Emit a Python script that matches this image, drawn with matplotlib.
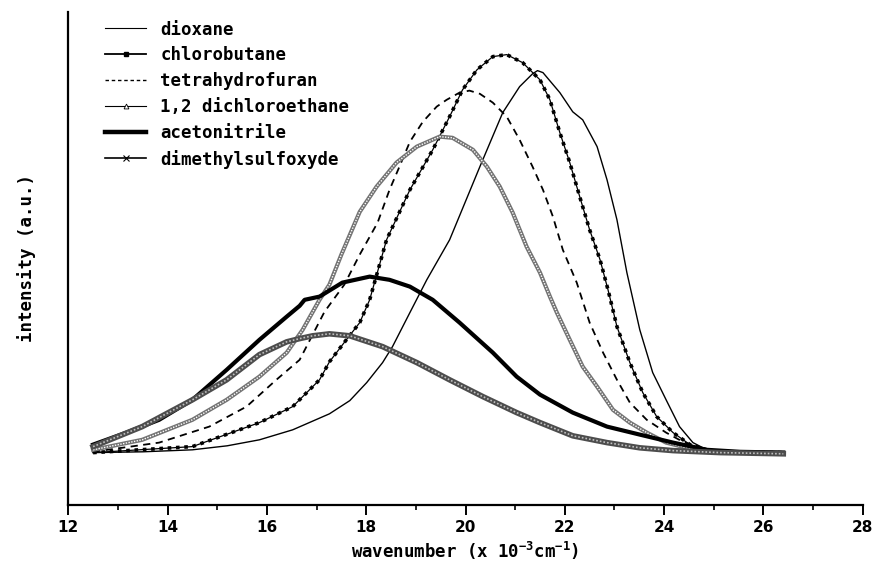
import matplotlib
matplotlib.use("Agg")
import matplotlib.pyplot as plt
from matplotlib.lines import Line2D
from matplotlib.ticker import MultipleLocator

plt.rcParams['font.family'] = ['DejaVu Sans Mono', 'DejaVu Sans']
plt.rcParams['mathtext.fontset'] = 'custom'
plt.rcParams['mathtext.rm'] = 'DejaVu Sans Mono:bold'
plt.rcParams['mathtext.default'] = 'rm'

# values (wavenumber in 10^3 cm^-1, intensity in a.u.)
dioxane_x = [12.5, 13.5, 14.5, 15.2, 15.85, 16.52, 17.26, 17.67, 18.01, 18.33, 18.53, 18.88,
             19.22, 19.68, 20.29, 20.75, 21.09, 21.35, 21.45, 21.56, 21.90, 22.16, 22.36,
             22.65, 22.85, 23.05, 23.25, 23.51, 23.77, 24.04, 24.31, 24.58, 24.86, 25.13, 26.4]
dioxane_y = [0.003, 0.005, 0.010, 0.020, 0.035, 0.060, 0.100, 0.133, 0.178, 0.228, 0.268, 0.353,
             0.435, 0.535, 0.718, 0.853, 0.918, 0.950, 0.958, 0.953, 0.903, 0.855, 0.835,
             0.768, 0.685, 0.585, 0.453, 0.310, 0.203, 0.135, 0.068, 0.028, 0.010, 0.005, 0.003]

chloro_x = [12.5, 14.5, 15.85, 16.52, 17.06, 17.26, 17.60, 17.87, 18.07, 18.41, 18.88, 19.34,
            19.68, 19.94, 20.23, 20.55, 20.83, 21.15, 21.50, 21.70, 21.90, 22.10, 22.30, 22.50,
            22.71, 22.87, 23.05, 23.31, 23.57, 23.85, 24.18, 24.52, 24.86, 25.13, 26.4]
chloro_y = [0.003, 0.018, 0.078, 0.118, 0.185, 0.230, 0.285, 0.328, 0.385, 0.535, 0.660, 0.760,
            0.843, 0.910, 0.960, 0.993, 0.998, 0.978, 0.935, 0.885, 0.803, 0.728, 0.643, 0.560,
            0.485, 0.410, 0.318, 0.228, 0.153, 0.093, 0.053, 0.023, 0.010, 0.005, 0.003]

thf_x = [12.5, 13.83, 14.84, 15.59, 16.19, 16.66, 17.16, 17.56, 17.87, 18.23, 18.47, 18.67,
         18.88, 19.14, 19.42, 19.62, 19.88, 20.08, 20.29, 20.55, 20.83, 21.09, 21.35, 21.56,
         21.76, 21.96, 22.24, 22.50, 22.77, 23.05, 23.31, 23.65, 24.04, 24.38, 24.72, 25.13, 26.4]
thf_y = [0.005, 0.028, 0.068, 0.118, 0.185, 0.235, 0.355, 0.423, 0.498, 0.578, 0.660, 0.718,
         0.780, 0.830, 0.868, 0.885, 0.903, 0.908, 0.900, 0.878, 0.843, 0.785, 0.718, 0.660,
         0.593, 0.510, 0.428, 0.328, 0.253, 0.185, 0.128, 0.085, 0.053, 0.030, 0.015, 0.005, 0.003]

dce_x = [12.5, 13.49, 14.50, 15.19, 15.85, 16.40, 16.72, 17.06, 17.26, 17.50, 17.87, 18.21,
         18.61, 19.02, 19.48, 19.74, 20.15, 20.43, 20.69, 20.95, 21.23, 21.50, 21.70, 21.84,
         22.10, 22.36, 22.65, 22.97, 23.31, 23.65, 24.04, 24.46, 24.92, 26.4]
dce_y = [0.010, 0.035, 0.085, 0.135, 0.193, 0.253, 0.310, 0.385, 0.423, 0.498, 0.605, 0.668,
         0.728, 0.768, 0.793, 0.790, 0.760, 0.718, 0.668, 0.603, 0.518, 0.453, 0.393, 0.353,
         0.285, 0.218, 0.168, 0.110, 0.078, 0.053, 0.028, 0.015, 0.005, 0.003]

acn_x = [12.5, 13.17, 13.83, 14.50, 15.19, 15.85, 16.40, 16.66, 16.76, 17.06, 17.52, 18.07,
         18.47, 18.88, 19.34, 19.88, 20.55, 21.03, 21.50, 22.16, 22.85, 23.51, 24.18, 24.86,
         25.53, 26.4]
acn_y = [0.023, 0.053, 0.085, 0.135, 0.210, 0.285, 0.343, 0.370, 0.385, 0.393, 0.428, 0.443,
         0.435, 0.418, 0.385, 0.328, 0.253, 0.193, 0.148, 0.103, 0.068, 0.048, 0.028, 0.010,
         0.005, 0.003]

dmso_x = [12.5, 13.49, 14.50, 15.19, 15.85, 16.40, 16.66, 16.92, 17.26, 17.67, 18.33, 19.02,
          19.68, 20.35, 21.03, 21.50, 22.16, 22.85, 23.51, 24.18, 25.13, 26.4]
dmso_y = [0.018, 0.068, 0.135, 0.185, 0.248, 0.280, 0.288, 0.295, 0.300, 0.295, 0.268, 0.228,
          0.185, 0.143, 0.103, 0.078, 0.045, 0.028, 0.015, 0.008, 0.003, 0.0]

labels = ['dioxane', 'chlorobutane', 'tetrahydrofuran', '1,2 dichloroethane',
          'acetonitrile', 'dimethylsulfoxyde']

fig = plt.figure(figsize=(8.75, 5.63), dpi=100)
ax = fig.add_axes([0.078, 0.103, 0.908, 0.876])

# dioxane: thin solid
ax.plot(dioxane_x, dioxane_y, color='black', lw=1.0)
# chlorobutane: thin line with dense square dots
ax.plot(chloro_x, chloro_y, color='black', lw=0.9)
ax.plot(chloro_x, chloro_y, color='black', lw=2.6, ls=(0, (1, 1.3)), dash_capstyle='butt')
# THF: dashed
ax.plot(thf_x, thf_y, color='black', lw=1.3, ls=(0, (4, 3)))
# DCE: grey textured band (open triangles)
ax.plot(dce_x, dce_y, color='0.45', lw=3.0)
ax.plot(dce_x, dce_y, color='white', lw=1.0, ls=(0, (1, 1)))
# acetonitrile: thick solid
ax.plot(acn_x, acn_y, color='black', lw=3.0)
# DMSO: dark grey band (crosses)
ax.plot(dmso_x, dmso_y, color='0.3', lw=4.0)
ax.plot(dmso_x, dmso_y, color='0.75', lw=1.2, ls=(0, (1, 1.2)))

ax.set_xlim(12, 28)
ax.set_ylim(-0.128, 1.105)
ax.xaxis.set_major_locator(MultipleLocator(2))
ax.xaxis.set_minor_locator(MultipleLocator(1))
ax.set_yticks([])
ax.tick_params(axis='x', which='major', direction='out', length=7, width=1.4, pad=4,
               labelsize=11)
ax.tick_params(axis='x', which='minor', direction='out', length=3.5, width=1.2)
for lab in ax.get_xticklabels():
    lab.set_fontfamily('DejaVu Sans')
    lab.set_fontweight('bold')

for side in ['top', 'right']:
    ax.spines[side].set_visible(False)
for side in ['left', 'bottom']:
    ax.spines[side].set_linewidth(1.6)

ax.set_xlabel('wavenumber (x 10$^{-3}$cm$^{-1}$)', fontsize=12.5, fontweight='bold', labelpad=3)
ax.set_ylabel('intensity (a.u.)', fontsize=12.5, fontweight='bold', labelpad=23)

handles = [
    Line2D([], [], color='black', lw=0.8),
    Line2D([], [], color='black', lw=1.3, marker='s', ms=3),
    Line2D([], [], color='black', lw=1.0, ls=(0, (2.5, 2))),
    Line2D([], [], color='black', lw=0.8, marker='^', ms=3.5, mfc='white', mec='black', mew=0.6),
    Line2D([], [], color='black', lw=3.2),
    Line2D([], [], color='black', lw=1.2, marker='x', ms=4, mew=0.8),
]
ax.legend(handles, labels, loc='upper left', bbox_to_anchor=(0.035, 1.0), frameon=False,
          prop={'size': 12.5, 'weight': 'bold'}, handlelength=2.4, handletextpad=0.8,
          labelspacing=0.45, borderaxespad=0.1, numpoints=1)

fig.savefig('out.png', dpi=100)
